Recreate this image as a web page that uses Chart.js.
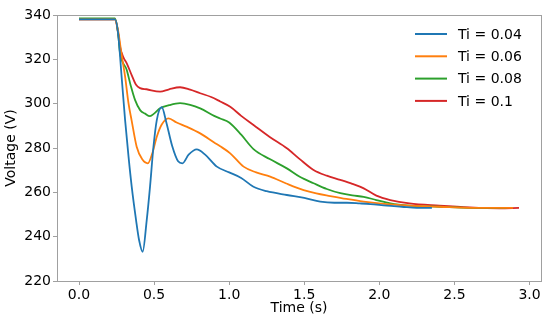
<!DOCTYPE html>
<html lang="en">
<head>
    <meta charset="UTF-8">
    <title>Voltage vs Time for different Ti</title>
    <script src="https://cdn.jsdelivr.net/npm/chart.js"></script>
    <style>
        html, body { margin: 0; padding: 0; background: #fff; }
        #wrap { width: 550px; height: 323px; }
    </style>
</head>
<body>
    <div id="wrap"><canvas id="voltageChart"></canvas></div>

    <script>
        // Series labels and colours
        const labels = ['Ti = 0.04', 'Ti = 0.06', 'Ti = 0.08', 'Ti = 0.1'];
        const colors = ['#1f77b4', '#ff7f0e', '#2ca02c', '#d62728'];

        // Ti = 0.04
        const t1 = [0, 0.24, 0.26, 0.284, 0.307, 0.33, 0.351, 0.38, 0.40, 0.424, 0.451, 0.473, 0.495, 0.518, 0.551, 0.58, 0.62, 0.66, 0.689, 0.73, 0.784, 0.84, 0.918, 1.0, 1.08, 1.162, 1.25, 1.384, 1.5, 1.607, 1.7, 1.784, 1.87, 1.94, 2.05, 2.15, 2.25, 2.35];
        const v1 = [338, 338, 332, 312, 292.6, 276, 262.6, 247.5, 238.5, 233.2, 247.5, 262.6, 280, 292.6, 298.4, 292, 281, 274, 273.1, 277, 279.4, 277, 271.6, 269, 266.5, 262.5, 260.5, 258.8, 257.5, 255.8, 255.3, 255.3, 255, 254.7, 254, 253.5, 253, 253];

        // Ti = 0.06
        const t2 = [0, 0.24, 0.26, 0.284, 0.307, 0.33, 0.35, 0.384, 0.42, 0.458, 0.49, 0.518, 0.55, 0.596, 0.65, 0.72, 0.807, 0.9, 0.94, 1.007, 1.096, 1.18, 1.273, 1.38, 1.496, 1.58, 1.673, 1.78, 1.896, 2.05, 2.2, 2.4, 2.6, 2.8, 2.89];
        const v2 = [338, 338, 333, 322, 312.2, 300, 292.6, 280.6, 275, 273.1, 278, 285.1, 290.5, 293.4, 291.5, 289.5, 286.6, 282.5, 280.8, 277.6, 271.6, 269, 267.1, 264, 261, 259.5, 258.3, 257, 255.8, 254.7, 254, 253.5, 253, 253, 253];

        // Ti = 0.08
        const t3 = [0, 0.24, 0.26, 0.273, 0.318, 0.345, 0.373, 0.407, 0.44, 0.473, 0.50, 0.54, 0.6, 0.673, 0.74, 0.807, 0.9, 0.94, 1.0, 1.08, 1.162, 1.27, 1.384, 1.47, 1.562, 1.65, 1.74, 1.82, 1.896, 1.98, 2.073, 2.2, 2.4, 2.6, 2.85];
        const v3 = [338.5, 338.5, 332, 323, 315.2, 308, 301.7, 297.1, 295.5, 294.4, 295.5, 297.9, 299.3, 300.2, 299.5, 297.9, 294.5, 293.3, 291.5, 286, 279.5, 275, 270.8, 267, 264.1, 261.5, 259.6, 258.6, 258, 256.5, 255, 254, 253.5, 253, 253];

        // Ti = 0.1
        const t4 = [0, 0.24, 0.26, 0.273, 0.295, 0.318, 0.35, 0.38, 0.407, 0.45, 0.54, 0.6, 0.673, 0.74, 0.807, 0.88, 0.94, 1.007, 1.08, 1.162, 1.27, 1.384, 1.47, 1.562, 1.65, 1.74, 1.82, 1.896, 1.98, 2.073, 2.2, 2.4, 2.6, 2.8, 2.93];
        const v4 = [338, 338, 332, 325.7, 321, 318.2, 313, 308.5, 307, 306.5, 305.4, 306.5, 307.4, 306.3, 304.7, 303, 301, 298.6, 294.5, 290.4, 285, 279.9, 275, 270.1, 267.5, 265.6, 263.8, 261.8, 258.5, 256.5, 255, 254, 253.2, 252.8, 253];

        // Axis ticks
        const xTicks = [0, 0.5, 1.0, 1.5, 2.0, 2.5, 3.0];
        const yTicks = [220, 240, 260, 280, 300, 320, 340];

        const times = [t1, t2, t3, t4];
        const values = [v1, v2, v3, v4];

        const spineColor = '#a0a0a0';
        const font = { family: 'DejaVu Sans', size: 14 };

        // box around plot area (matplotlib style spines)
        const frame = {
            id: 'frame',
            afterDraw(chart) {
                const { ctx, chartArea: a } = chart;
                ctx.save();
                ctx.strokeStyle = spineColor;
                ctx.lineWidth = 1;
                ctx.strokeRect(a.left + 0.5, a.top + 0.5, a.right - a.left, a.bottom - a.top);
                ctx.restore();
            }
        };

        // legend drawn inside the upper right of the plot, no frame
        const innerLegend = {
            id: 'innerLegend',
            afterDraw(chart) {
                const { ctx } = chart;
                ctx.save();
                ctx.font = '14px "DejaVu Sans"';
                ctx.textBaseline = 'middle';
                ctx.textAlign = 'left';
                chart.data.datasets.forEach((ds, i) => {
                    const y = 34 + i * 22.3;
                    ctx.strokeStyle = ds.borderColor;
                    ctx.lineWidth = 2;
                    ctx.beginPath();
                    ctx.moveTo(415, y);
                    ctx.lineTo(447, y);
                    ctx.stroke();
                    ctx.fillStyle = '#000';
                    ctx.fillText(ds.label, 458, y + 1);
                });
                ctx.restore();
            }
        };

        const datasets = labels.map((label, i) => ({
            label: label,
            data: times[i].map((t, j) => ({ x: t, y: values[i][j] })),
            borderColor: colors[i],
            backgroundColor: colors[i],
            borderWidth: 1.8,
            pointRadius: 0,
            fill: false,
            cubicInterpolationMode: 'monotone'
        }));

        const ctx = document.getElementById('voltageChart').getContext('2d');
        new Chart(ctx, {
            type: 'line',
            data: { datasets: datasets },
            options: {
                responsive: true,
                maintainAspectRatio: false,
                animation: false,
                layout: { padding: { top: 15, right: 9, left: 0, bottom: 0 } },
                plugins: {
                    legend: { display: false },
                    tooltip: { enabled: false }
                },
                scales: {
                    x: {
                        type: 'linear',
                        min: -0.1465,
                        max: 3.0765,
                        afterBuildTicks: (s) => { s.ticks = xTicks.map(v => ({ value: v })); },
                        afterFit: (s) => { s.height = 42; },
                        grid: { drawOnChartArea: false, drawTicks: true, tickLength: 4, color: spineColor },
                        border: { display: true, color: spineColor },
                        ticks: {
                            color: '#000',
                            font: font,
                            padding: 2,
                            maxRotation: 0,
                            callback: (v) => v.toFixed(1)
                        },
                        title: { display: true, text: 'Time (s)', color: '#000', font: font, padding: { top: 0, bottom: 6 } }
                    },
                    y: {
                        min: 220,
                        max: 340,
                        afterBuildTicks: (s) => { s.ticks = yTicks.map(v => ({ value: v })); },
                        afterFit: (s) => { s.width = 57; },
                        grid: { drawOnChartArea: false, drawTicks: true, tickLength: 4, color: spineColor },
                        border: { display: true, color: spineColor },
                        ticks: {
                            color: '#000',
                            font: font,
                            padding: 2
                        },
                        title: { display: true, text: 'Voltage (V)', color: '#000', font: font, padding: { top: 3, bottom: 0 } }
                    }
                }
            },
            plugins: [frame, innerLegend]
        });
    </script>
</body>
</html>
